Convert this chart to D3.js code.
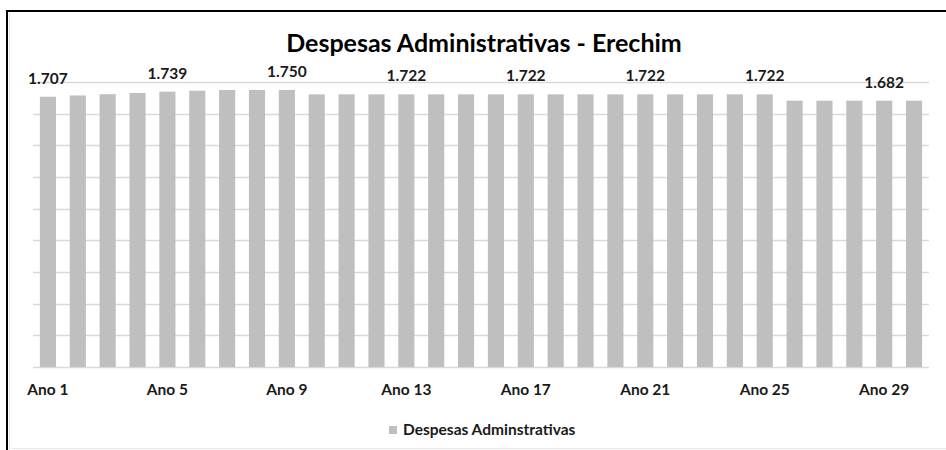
<!DOCTYPE html>
<html>
<head>
<meta charset="utf-8">
<script src="https://cdn.jsdelivr.net/npm/d3@7"></script>
<style>
  body { margin: 0; background: #fff; overflow: hidden; }
  svg { display: block; font-family: Lato, "Open Sans", sans-serif; }
</style>
</head>
<body>
<script>
// ----- data -----
const anos = ["Ano 1","Ano 2","Ano 3","Ano 4","Ano 5","Ano 6","Ano 7","Ano 8","Ano 9","Ano 10",
  "Ano 11","Ano 12","Ano 13","Ano 14","Ano 15","Ano 16","Ano 17","Ano 18","Ano 19","Ano 20",
  "Ano 21","Ano 22","Ano 23","Ano 24","Ano 25","Ano 26","Ano 27","Ano 28","Ano 29","Ano 30"];
const despesas = [1707, 1715, 1723, 1731, 1739, 1745, 1750, 1750, 1750, 1722,
  1722, 1722, 1722, 1722, 1722, 1722, 1722, 1722, 1722, 1722,
  1722, 1722, 1722, 1722, 1722, 1682, 1682, 1682, 1682, 1682];
const yTicks = [0, 200, 400, 600, 800, 1000, 1200, 1400, 1600, 1800];
const titulo = "Despesas Administrativas - Erechim";
const serie = "Despesas Adminstrativas";

const width = 946, height = 450;
const margin = {top: 82, right: 17, bottom: 83, left: 33};

// pt-BR style thousands separator -> 1.707
const fmt = d3.formatLocale({decimal: ",", thousands: ".", grouping: [3], currency: ["R$", ""]}).format(",d");

const svg = d3.select("body").append("svg")
  .attr("width", width)
  .attr("height", height);

// outer frame: black left/top edges, light inner chart-area edge
svg.append("path")
  .attr("d", `M9.5,${height} V13 M12,448.5 H${width}`)
  .attr("fill", "none")
  .attr("stroke", "#e6e6e6");
svg.append("path")
  .attr("d", `M7,${height} V11 H${width}`)
  .attr("fill", "none")
  .attr("stroke", "#000")
  .attr("stroke-width", 2);

const x = d3.scaleBand()
  .domain(anos)
  .range([margin.left, width - margin.right])
  .paddingInner(0.46)
  .paddingOuter(0.23);

const y = d3.scaleLinear()
  .domain([0, 1800])
  .range([height - margin.bottom, margin.top]);

// gridlines
svg.append("g")
  .selectAll("line")
  .data(yTicks)
  .join("line")
    .attr("x1", margin.left)
    .attr("x2", width - margin.right)
    .attr("y1", d => Math.round(y(d)) + 0.5)
    .attr("y2", d => Math.round(y(d)) + 0.5)
    .attr("stroke", "#d9d9d9")
    .attr("stroke-width", 1.5);

// bars
svg.append("g")
  .selectAll("rect")
  .data(despesas)
  .join("rect")
    .attr("x", (d, i) => x(anos[i]))
    .attr("y", d => y(d))
    .attr("width", x.bandwidth())
    .attr("height", d => y(0) - y(d))
    .attr("fill", "#bfbfbf");

// value labels on every 4th bar
svg.append("g")
  .attr("text-anchor", "middle")
  .style("font-size", "15.5px")
  .style("font-weight", "bold")
  .selectAll("text")
  .data(despesas.map((v, i) => ({v, i})).filter(d => d.i % 4 === 0))
  .join("text")
    .attr("x", d => x(anos[d.i]) + x.bandwidth() / 2)
    .attr("y", d => y(d.v) - 13)
    .attr("fill", "#1a1a1a")
    .text(d => fmt(d.v));

// x axis labels
svg.append("g")
  .attr("text-anchor", "middle")
  .style("font-size", "15.5px")
  .style("font-weight", "bold")
  .selectAll("text")
  .data(anos.filter((a, i) => i % 4 === 0))
  .join("text")
    .attr("x", d => x(d) + x.bandwidth() / 2)
    .attr("y", 395)
    .attr("fill", "#1a1a1a")
    .text(d => d);

// title
svg.append("text")
  .attr("x", 484)
  .attr("y", 52)
  .attr("text-anchor", "middle")
  .style("font-size", "25px")
  .style("font-weight", "bold")
  .attr("fill", "#000")
  .text(titulo);

// legend
const lg = svg.append("g").attr("transform", "translate(389,426)");
lg.append("rect").attr("width", 8).attr("height", 8).attr("fill", "#bfbfbf");
lg.append("text")
  .attr("x", 14).attr("y", 9)
  .style("font-size", "15.5px")
  .style("font-weight", "bold")
  .attr("fill", "#1a1a1a")
  .text(serie);
</script>
</body>
</html>
